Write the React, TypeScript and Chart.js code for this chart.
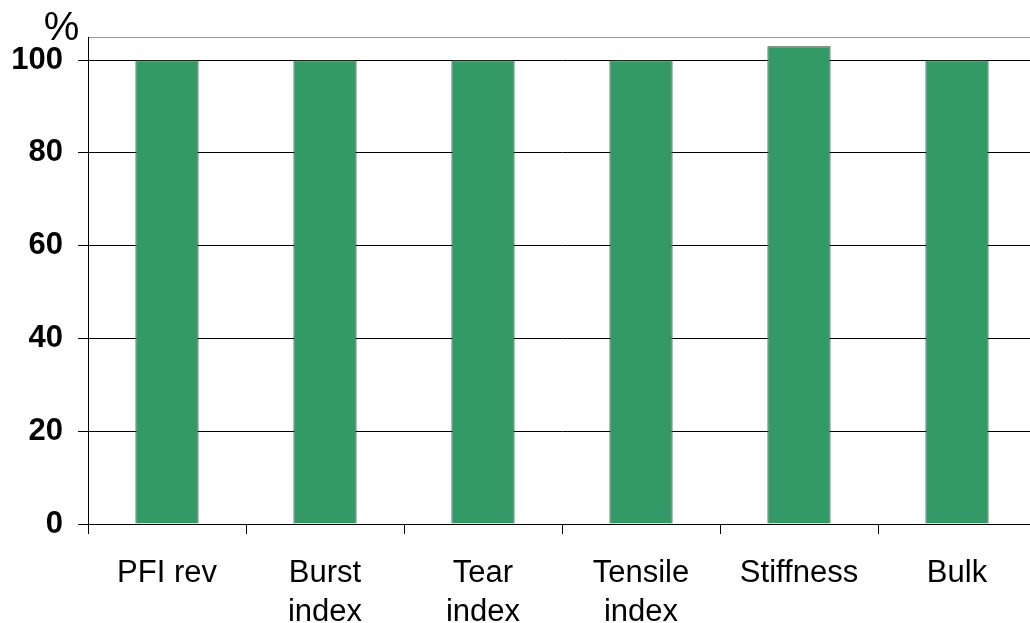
import React, { useEffect, useRef } from "react";
import { Chart, registerables } from "chart.js";

Chart.register(...registerables);

const categories: (string | string[])[] = [
  "PFI rev",
  ["Burst", "index"],
  ["Tear", "index"],
  ["Tensile", "index"],
  "Stiffness",
  "Bulk",
];
const values: number[] = [100, 100, 100, 100, 103, 100];
const yTickValues: number[] = [0, 20, 40, 60, 80, 100, 105];
const yMax = 105;
const unitLabel = "%";

const FONT = "'Liberation Sans', Arial, sans-serif";

export default function App() {
  const ref = useRef<HTMLCanvasElement | null>(null);

  useEffect(() => {
    if (!ref.current) return;
    const unitPlugin = {
      id: "unitLabel",
      afterDraw(chart: any) {
        const c = chart.ctx;
        c.save();
        c.font = `40px ${FONT}`;
        c.fillStyle = "#000";
        c.textAlign = "center";
        c.textBaseline = "alphabetic";
        c.fillText(unitLabel, chart.chartArea.left - 26.5, chart.chartArea.top + 3);
        c.restore();
      },
    };
    const chart = new Chart(ref.current, {
      type: "bar",
      data: {
        labels: categories,
        datasets: [
          {
            data: values,
            backgroundColor: "#339966",
            borderColor: "#27472f",
            borderWidth: 1,
            barPercentage: 0.4,
            categoryPercentage: 1,
          },
        ],
      },
      options: {
        responsive: false,
        animation: false,
        devicePixelRatio: 1,
        layout: { padding: { left: 0, top: 37, right: 4, bottom: 0 } },
        plugins: {
          legend: { display: false },
          tooltip: { enabled: false },
          title: { display: false },
        },
        scales: {
          x: {
            offset: true,
            grid: {
              display: true,
              offset: true,
              drawOnChartArea: false,
              tickLength: 10,
              color: "#000",
              lineWidth: 1,
            },
            border: { display: true, color: "#000", width: 1 },
            ticks: {
              color: "#000",
              font: { family: FONT, size: 31, lineHeight: 1.25 },
              padding: 20,
              maxRotation: 0,
              minRotation: 0,
              autoSkip: false,
            },
            afterFit(scale: any) {
              scale.height = 99;
            },
          },
          y: {
            min: 0,
            max: yMax,
            afterBuildTicks(scale: any) {
              scale.ticks = yTickValues.map((v) => ({ value: v }));
            },
            grid: {
              color: (ctx: any) => (ctx.tick && ctx.tick.value === yMax ? "#9a9a9a" : "#000"),
              tickColor: (ctx: any) => (ctx.tick && ctx.tick.value === yMax ? "rgba(0,0,0,0)" : "#000"),
              tickLength: 10,
              lineWidth: 1,
            },
            border: { display: true, color: "#000", width: 1 },
            ticks: {
              color: "#000",
              font: { family: FONT, size: 31, weight: "bold" },
              padding: 15,
              callback: (v: any) => (v === yMax ? "" : String(v)),
            },
            afterFit(scale: any) {
              scale.width = 88;
            },
          },
        },
      },
      plugins: [unitPlugin],
    } as any);
    return () => chart.destroy();
  }, []);

  return (
    <div
      style={{
        position: "fixed",
        left: 0,
        top: 0,
        width: 1030,
        height: 623,
        overflow: "hidden",
        background: "#fff",
      }}
    >
      <canvas ref={ref} width={1040} height={623} style={{ display: "block" }} />
    </div>
  );
}
